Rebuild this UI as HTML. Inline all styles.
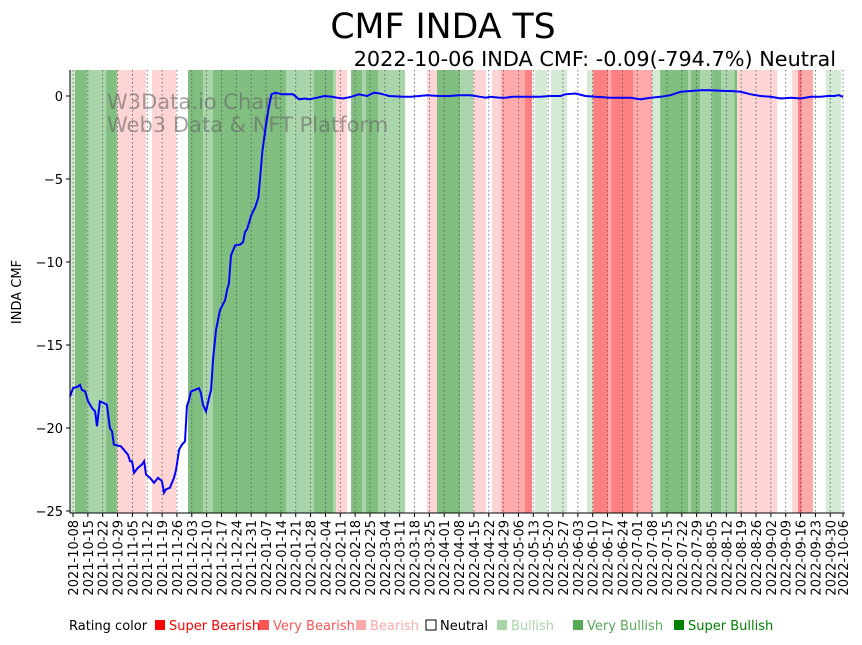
<!DOCTYPE html>
<html><head><meta charset="utf-8"><style>
body{margin:0;background:#fff;font-family:"DejaVu Sans","Liberation Sans",sans-serif;}
</style></head><body>
<svg id="chart" width="862" height="641" xmlns="http://www.w3.org/2000/svg" font-family="DejaVu Sans, Liberation Sans, sans-serif">
<text x="443" y="38" font-size="34.7" text-anchor="middle">CMF INDA TS</text>
<text x="836" y="66" font-size="20.8" text-anchor="end">2022-10-06 INDA CMF: -0.09(-794.7%) Neutral</text>
<g id="bands"></g>
<g id="grid"></g>
<g fill="#666" fill-opacity="0.6" font-size="21">
<text x="107" y="109">W3Data.io Chart</text>
<text x="107" y="132">Web3 Data &amp; NFT Platform</text>
</g>
<path id="line" fill="none" stroke="#0000ff" stroke-width="2"/>
<g id="axes"></g>
<text transform="translate(21,292) rotate(-90)" font-size="13" text-anchor="middle">INDA CMF</text>
<g id="legend" font-size="13">
<text x="69" y="630" fill="#000">Rating color</text>
<rect x="155" y="620" width="10" height="10" fill="#ff0000"/><text x="169" y="630" fill="#ff0000">Super Bearish</text>
<rect x="259" y="620" width="10" height="10" fill="#ff5555"/><text x="273" y="630" fill="#ff5555">Very Bearish</text>
<rect x="356" y="620" width="10" height="10" fill="#ffaaaa"/><text x="370" y="630" fill="#ffaaaa">Bearish</text>
<rect x="426" y="620" width="10" height="10" fill="none" stroke="#000"/><text x="440" y="630" fill="#000">Neutral</text>
<rect x="497" y="620" width="10" height="10" fill="#aad4aa"/><text x="511" y="630" fill="#aad4aa">Bullish</text>
<rect x="573" y="620" width="10" height="10" fill="#55aa55"/><text x="587" y="630" fill="#55aa55">Very Bullish</text>
<rect x="674" y="620" width="10" height="10" fill="#008000"/><text x="688" y="630" fill="#008000">Super Bullish</text>
</g>
</svg>
<script>
const bandStarts=[-1.4,0.9,6.6,15.6,20.7,34.4,37.2,48.6,54.2,61.3,66,100.4,113.6,122.6,124,129.2,131.1,136.3,138.1,143.8,156.5,166.9,171.6,182.5,188.6,194.7,197.5,201.8,213.1,216.4,217.8,223.5,225.4,232.9,242.3,245.2,252.2,253.7,264,273,276.8,290,291.4,295.7,301.3,305.6,311.7,313.1,332,339,341.8,343.7,348.9,355,362.1];
const bandRatings=[1,3,2,3,-1,0,-1,0,3,2,3,2,3,2,-1,0,3,2,3,2,0,-1,3,2,-1,0,-1,-2,-3,0,1,0,1,0,1,-3,-2,-3,-2,1,3,2,3,2,3,2,3,-1,0,-1,-3,-2,0,1,0];
const lineDays=[-1.4,0,2.4,3.3,4.2,5.7,7.1,9,10.4,11.3,12.7,14.6,16,17.4,18.4,19.3,22.6,24.5,25.9,26.9,27.8,28.8,30.6,32.5,33.5,34.4,36.3,38.2,40.1,41.9,42.9,43.8,45.7,47.6,48.6,50,51.4,52.8,53.7,54.7,55.6,57.5,59.4,60.3,61.3,62.7,64.1,65.1,66,67.4,69.3,71.7,72.6,73.5,74.5,76.4,78.8,80.2,81.1,82.1,84,85.9,87.4,88.3,89.3,90.7,92.1,93.6,95.4,98.5,103.7,106.6,109.4,111.3,115.1,118.4,122.2,124.5,127.4,131.1,134.9,136.8,138.6,141.9,144.8,149,155.6,159.4,163.2,167,172.6,177.4,182.1,187.3,189.7,192,194.7,196.6,201.3,203.7,207,210.8,215.6,220.3,225,229.8,232.1,236.9,241.6,246.3,253.4,262.8,267.5,272.3,277,281.7,286.4,291.1,295.9,300.6,307.7,310,314.8,319.5,324.2,328.9,333.7,338.4,343.1,347.8,352.6,355.9,358.7,361,363];
const lineVals=[-18.1,-17.6,-17.5,-17.4,-17.7,-17.8,-18.4,-18.8,-19,-19.9,-18.4,-18.5,-18.6,-20,-20.2,-21,-21.1,-21.4,-21.6,-22,-22,-22.7,-22.4,-22.2,-22,-22.8,-23,-23.3,-23,-23.2,-23.9,-23.7,-23.6,-23,-22.5,-21.3,-21,-20.8,-18.7,-18.3,-17.8,-17.7,-17.6,-17.9,-18.6,-19,-18.2,-17.7,-15.9,-14.1,-12.9,-12.3,-11.7,-11.3,-9.6,-9,-8.95,-8.8,-8.2,-8,-7.2,-6.7,-6.1,-4.8,-3.3,-2,-0.8,0.1,0.2,0.1,0.1,-0.2,-0.15,-0.2,-0.1,0,-0.05,-0.1,-0.15,-0.05,0.1,0.05,0,0.2,0.15,0,-0.05,-0.05,0,0.05,0,0,0.05,0.05,0,-0.05,-0.1,-0.05,-0.1,-0.1,-0.05,-0.05,-0.05,-0.05,0,0,0.1,0.15,0,-0.05,-0.1,-0.1,-0.2,-0.1,-0.05,0.05,0.25,0.3,0.35,0.35,0.3,0.3,0.25,0.1,0,-0.05,-0.15,-0.1,-0.15,-0.05,-0.05,0,0,0.05,-0.05,-0.02,-0.1];
const yTicks=[0,-5,-10,-15,-20,-25];
const startDate=new Date(Date.UTC(2021,9,8));
const xTickDays=[];for(let d=0;d<=357;d+=7)xTickDays.push(d);xTickDays.push(363);
const xTickLabels=xTickDays.map(d=>new Date(startDate.getTime()+d*86400000).toISOString().slice(0,10));

const X0=70,X1=845,Y0=70,Y1=513;
const xs=d=>73+d*2.1212;
const ys=v=>96-v*16.6;
const NS='http://www.w3.org/2000/svg';
function mk(tag,attrs,parent){const e=document.createElementNS(NS,tag);for(const k in attrs)e.setAttribute(k,attrs[k]);parent.appendChild(e);return e;}
const cmap={'-3':'#ff8080','-2':'#ffaaaa','-1':'#ffd4d4','1':'#d4ead4','2':'#aad4aa','3':'#80bf80'};
const bands=document.getElementById('bands');
for(let i=0;i<bandRatings.length;i++){
  const s=bandStarts[i]; const e=i+1<bandStarts.length?bandStarts[i+1]:364;
  const r=bandRatings[i];
  if(r===0)continue;
  const x1=Math.max(X0,xs(s)), x2=Math.min(X1,xs(e));
  const rect=mk('rect',{x:x1,y:Y0,width:Math.max(0,x2-x1),height:Y1-Y0,fill:cmap[String(r)]},bands);
  
  
}
const grid=document.getElementById('grid');
xTickDays.forEach(d=>{const l=mk('line',{x1:xs(d),x2:xs(d),y1:Y0,y2:Y1,stroke:'#555','stroke-width':0.8,'stroke-dasharray':'1.5,2.5'},grid);

});
let dstr='';lineDays.forEach((d,i)=>{dstr+=(i?'L':'M')+xs(d).toFixed(1)+','+ys(lineVals[i]).toFixed(1);});
document.getElementById('line').setAttribute('d',dstr);
const axes=document.getElementById('axes');
mk('line',{x1:X0,x2:X0,y1:Y0,y2:Y1,stroke:'#000','stroke-width':1},axes);
mk('line',{x1:X0,x2:X1,y1:Y1,y2:Y1,stroke:'#000','stroke-width':1},axes);
yTicks.forEach(v=>{mk('line',{x1:X0-4,x2:X0,y1:ys(v),y2:ys(v),stroke:'#000'},axes);
const t=mk('text',{x:X0-7,y:ys(v)+5,'font-size':13,'text-anchor':'end'},axes);t.textContent=v===0?'0':'\u2212'+Math.abs(v);

});
xTickDays.forEach((d,i)=>{const x=xs(d);mk('line',{x1:x,x2:x,y1:Y1,y2:Y1+4,stroke:'#000'},axes);
const t=mk('text',{transform:`translate(${x+5},${Y1+7}) rotate(-90)`,'font-size':13,'text-anchor':'end'},axes);t.textContent=xTickLabels[i];

});
</script>
</body></html>
